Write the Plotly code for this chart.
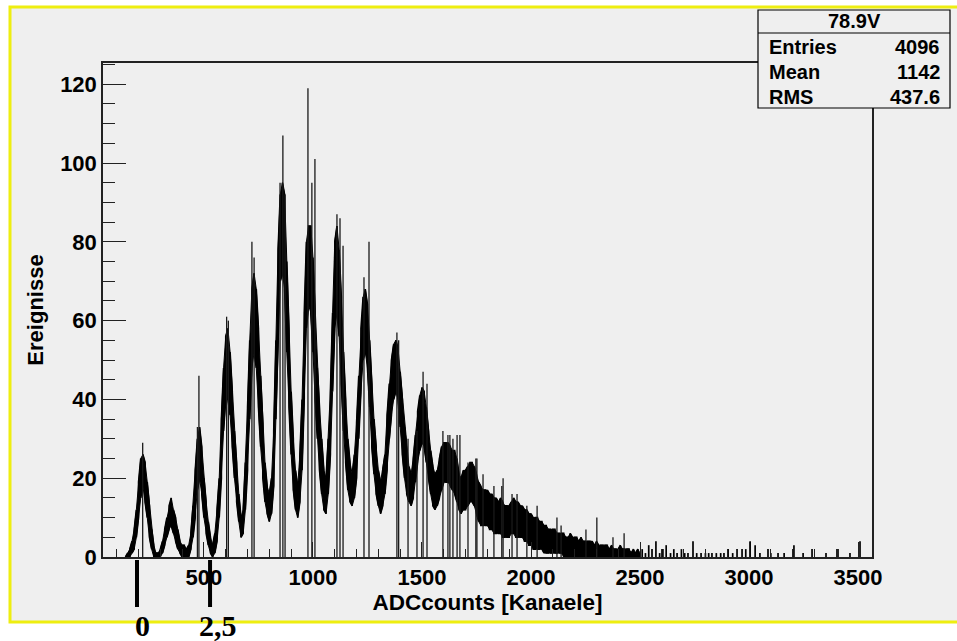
import plotly.graph_objects as go

# ---- histogram "78.9V": envelope of the noisy bins ----
# channel grid starts at 140, one value every 10 channels
band_lo = [
    0, 0, 0, 1, 2, 5, 10, 15, 18, 14,
    10, 5, 2, 0, 0, 0, 0, 1, 3, 5,
    7, 8, 6, 4, 2, 1, 0, 0, 0, 0,
    2, 5, 10, 17, 20, 16, 10, 6, 3, 1,
    0, 1, 4, 10, 20, 32, 40, 40, 36, 28,
    20, 14, 9, 5, 6, 12, 22, 35, 48, 52,
    48, 38, 28, 20, 14, 11, 9, 11, 18, 35,
    55, 70, 72, 68, 52, 38, 26, 17, 12, 10,
    14, 22, 40, 58, 64, 62, 52, 40, 30, 22,
    16, 12, 11, 16, 26, 42, 58, 62, 56, 44,
    32, 24, 17, 14, 13, 15, 20, 30, 42, 50,
    52, 48, 38, 28, 21, 16, 13, 11, 13, 16,
    22, 30, 36, 40, 42, 40, 33, 26, 20, 16,
    14, 13, 15, 19, 24, 27, 29, 28, 24, 20,
    16, 13, 12, 13, 15, 17, 19, 19, 19, 18,
    17, 16, 14, 12, 11, 12, 12, 13, 14, 14,
    13, 11, 9, 8, 8, 8, 8, 7, 7, 6,
    6, 6, 6, 5, 5, 5, 5, 6, 6, 5,
    5, 5, 5, 4, 4, 3, 3, 2, 2, 2,
    2, 2, 1, 1, 1, 1, 1, 1, 1, 1,
    1, 0, 0, 0, 0, 0, 0, 0, 0, 0,
    0, 0, 0, 0, 0, 0, 0, 0, 0, 0,
    0, 0, 0, 0, 0, 0, 0, 0, 0, 0,
    0, 0, 0, 0, 0, 0, 0,
]
band_hi = [
    0, 1, 2, 4, 7, 12, 19, 25, 26, 24,
    19, 13, 7, 3, 1, 1, 2, 4, 7, 10,
    13, 15, 12, 10, 7, 4, 3, 3, 2, 3,
    6, 13, 22, 30, 33, 28, 20, 14, 9, 5,
    3, 6, 12, 20, 35, 48, 56, 58, 52, 42,
    32, 24, 16, 10, 12, 24, 38, 55, 68, 72,
    68, 58, 46, 34, 24, 18, 16, 20, 32, 55,
    78, 92, 95, 92, 75, 58, 42, 30, 22, 18,
    26, 40, 62, 80, 84, 84, 76, 62, 48, 38,
    30, 22, 20, 30, 42, 62, 80, 84, 78, 66,
    52, 40, 30, 24, 21, 26, 34, 46, 58, 66,
    68, 64, 55, 44, 35, 28, 22, 19, 22, 26,
    36, 44, 50, 54, 55, 53, 47, 40, 33, 27,
    23, 21, 25, 31, 37, 41, 43, 42, 38, 32,
    27, 23, 21, 22, 25, 28, 29, 29, 29, 28,
    27, 27, 25, 21, 20, 22, 22, 23, 24, 24,
    23, 21, 19, 18, 17, 17, 17, 16, 16, 15,
    15, 14, 15, 14, 13, 13, 13, 14, 15, 14,
    14, 13, 13, 12, 12, 11, 11, 10, 10, 10,
    9, 9, 8, 8, 7, 7, 7, 7, 6, 6,
    6, 6, 5, 5, 6, 5, 5, 5, 4, 5,
    4, 4, 4, 4, 4, 3, 4, 3, 3, 3,
    3, 3, 2, 3, 2, 2, 2, 3, 2, 2,
    2, 2, 1, 2, 1, 2, 1,
]
band_ch = [140 + 10 * i for i in range(len(band_hi))]

# single tall bins sticking out of the envelope
spike_ch = [219, 470, 477, 604, 612, 720, 730, 849, 862, 872, 977, 995, 1009, 1110, 1124,
            1138, 1234, 1257, 1385, 1393, 1436, 1477, 1505, 1523, 1596, 1619, 1628, 1642,
            1661, 1674, 1711, 1747, 1752, 1780, 1830, 1866, 1872, 1913, 1936, 1981, 2028,
            2119, 2138, 2252, 2302, 2376, 2427]
spike_n = [29, 33, 46, 61, 60, 80, 76, 95, 107, 92, 119, 95, 101, 87, 86,
           79, 71, 80, 57, 55, 30, 32, 47, 44, 32, 31, 31, 30,
           31, 31, 24, 25, 25, 21, 18, 18, 20, 16, 16, 13, 13,
           10, 8, 7, 10, 5, 6]

# sparse tail above 2500 channels
tail_ch = [2510, 2525, 2540, 2555, 2573, 2590, 2605, 2620, 2640, 2655, 2670, 2690, 2705,
           2720, 2743, 2760, 2780, 2800, 2815, 2830, 2850, 2870, 2885, 2904, 2925, 2945,
           2968, 2985, 3005, 3028, 3050, 3087, 3100, 3133, 3161, 3206, 3248, 3289, 3353,
           3408, 3463, 3509]
tail_n = [2, 1, 3, 2, 4, 1, 2, 3, 1, 2, 1, 2, 1,
          1, 4, 1, 1, 1, 1, 1, 1, 1, 1, 2, 1, 2,
          2, 2, 4, 3, 1, 2, 1, 1, 1, 3, 1, 2, 1,
          2, 1, 4]

stats_title = "78.9V"
stats_rows = [("Entries", "4096"), ("Mean", "1142"), ("RMS", "437.6")]

mark_ch = [193, 528]
mark_txt_ch = [216, 564]
mark_lbl = ["0", "2,5"]

# ---- pixel helpers for the frame ----
W, H = 957, 641
L, R, T, B = 103, 85, 63, 84
PW, PH = W - L - R, H - T - B


def px(x):
    return (x - L) / PW


def py(y):
    return (H - B - y) / PH


# solid body of the histogram between low and high envelope
fx = band_ch + band_ch[::-1]
fy = band_hi + band_lo[::-1]

# zigzag through the envelope for the ragged step look
bx, by = [], []
for i, (c, lo, hi) in enumerate(zip(band_ch, band_lo, band_hi)):
    bx += [c, c]
    by += [lo, hi] if i % 2 == 0 else [hi, lo]

sx, sy = [], []
for c, n in zip(spike_ch, spike_n):
    sx += [c, c, None]
    sy += [0, n, None]

tx, ty = [], []
for c, n in zip(tail_ch, tail_n):
    tx += [c, c, None]
    ty += [0, n, None]

fig = go.Figure()
fig.add_scatter(x=fx, y=fy, mode="lines", fill="toself", fillcolor="black",
                line=dict(color="black", width=1), hoverinfo="skip")
fig.add_scatter(x=bx, y=by, mode="lines", line=dict(color="black", width=1.6), hoverinfo="skip")
fig.add_scatter(x=sx, y=sy, mode="lines", line=dict(color="#1a1a1a", width=1.3), hoverinfo="skip")
fig.add_scatter(x=tx, y=ty, mode="lines", line=dict(color="black", width=1.7), hoverinfo="skip")

font = "Liberation Sans, Arial, sans-serif"
axis_common = dict(
    showgrid=False, zeroline=False, showline=True, linecolor="#222", linewidth=1.5,
    mirror=True, ticks="inside", tickcolor="#222", tickwidth=1.3,
    tickfont=dict(family=font, size=22, color="black", weight="bold"),
)
fig.update_xaxes(
    range=[37, 3564], tick0=0, dtick=500, ticklen=15,
    minor=dict(dtick=100, ticks="inside", ticklen=8, tickcolor="#222"),
    title=dict(text="ADCcounts [Kanaele]", standoff=3,
               font=dict(family=font, size=22.5, color="black", weight="bold")),
    **axis_common,
)
fig.update_yaxes(
    range=[0, 125.4], tick0=0, dtick=20, ticklen=23,
    minor=dict(dtick=5, ticks="inside", ticklen=12, tickcolor="#222"),
    title=dict(text="Ereignisse", standoff=10,
               font=dict(family=font, size=22, color="black", weight="bold")),
    **axis_common,
)

shapes = [
    # canvas with yellow border
    dict(type="rect", xref="paper", yref="paper", x0=px(10), x1=px(965), y0=py(622), y1=py(7),
         fillcolor="#efefef", line=dict(color="#eeee10", width=3), layer="below"),
    # stats box
    dict(type="rect", xref="paper", yref="paper", x0=px(758), x1=px(950), y0=py(108), y1=py(10),
         fillcolor="#efefef", line=dict(color="black", width=1.2), layer="above"),
    dict(type="line", xref="paper", yref="paper", x0=px(758), x1=px(950), y0=py(33), y1=py(33),
         line=dict(color="black", width=1.2)),
]
for c in mark_ch:
    shapes.append(dict(type="line", xref="x", yref="paper", x0=c, x1=c, y0=py(560), y1=py(607),
                       line=dict(color="black", width=4)))

ann = [dict(text=stats_title, xref="paper", yref="paper", x=px(854), y=py(21),
            showarrow=False, xanchor="center", yanchor="middle",
            font=dict(family=font, size=20, color="black", weight="bold"))]
for k, (name, val) in enumerate(stats_rows):
    yy = py(47 + 25 * k)
    ann.append(dict(text=name, xref="paper", yref="paper", x=px(767), y=yy, showarrow=False,
                    xanchor="left", yanchor="middle",
                    font=dict(family=font, size=20, color="black", weight="bold")))
    ann.append(dict(text=val, xref="paper", yref="paper", x=px(942), y=yy, showarrow=False,
                    xanchor="right", yanchor="middle",
                    font=dict(family=font, size=20, color="black", weight="bold")))
for c, t in zip(mark_txt_ch, mark_lbl):
    ann.append(dict(text=t, xref="x", yref="paper", x=c, y=py(625), showarrow=False,
                    xanchor="center", yanchor="middle",
                    font=dict(family="Liberation Serif, Times New Roman, serif", size=30,
                              color="black", weight="bold")))

fig.update_layout(
    width=W, height=H, margin=dict(l=L, r=R, t=T, b=B),
    paper_bgcolor="white", plot_bgcolor="#efefef", showlegend=False,
    shapes=shapes, annotations=ann,
)

fig.write_html("out.html", config={"displayModeBar": False},
               post_script="document.body.style.margin='0';document.body.style.overflow='hidden';")
